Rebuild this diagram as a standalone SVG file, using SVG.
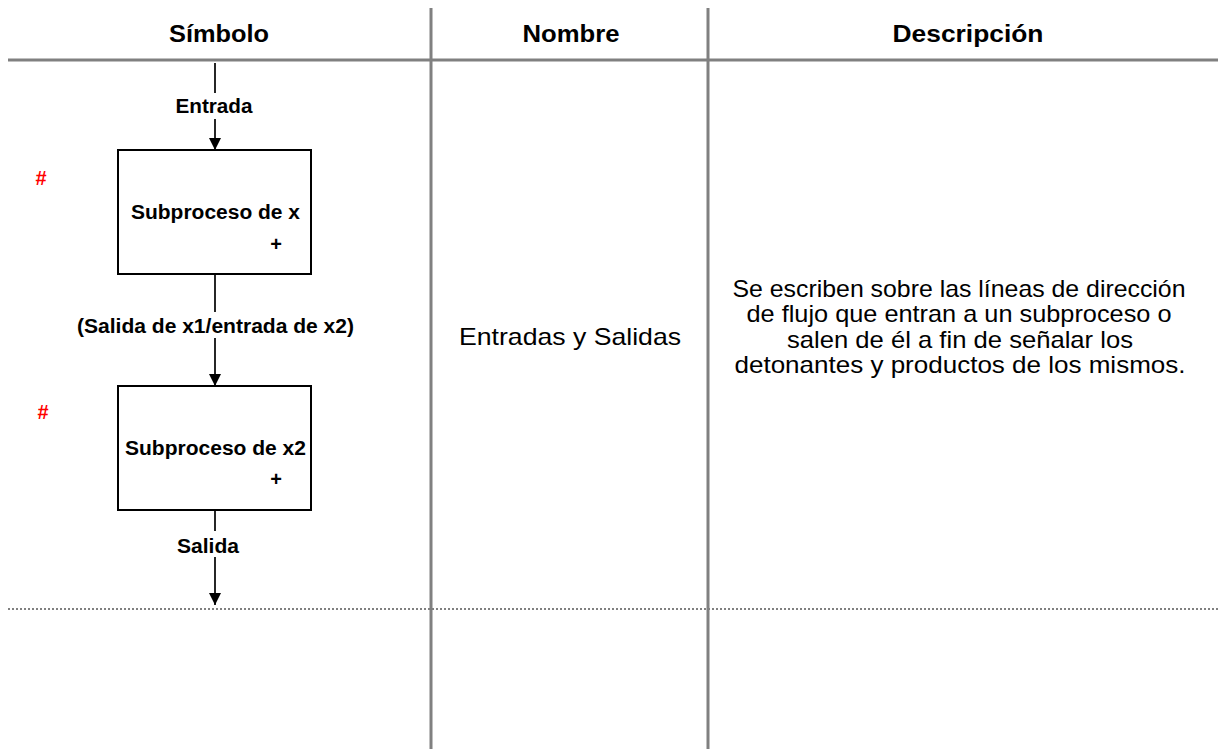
<svg xmlns="http://www.w3.org/2000/svg" width="1218" height="751" viewBox="0 0 1218 751">
<style>
.grid{stroke:#808080;stroke-width:3;fill:none}
.dot{stroke:#808080;stroke-width:2;stroke-dasharray:2 2;fill:none}
.box{fill:#fff;stroke:#000;stroke-width:2}
.ln{stroke:#000;stroke-width:1.7;fill:none}
.arr{stroke:#000;stroke-width:1.7;fill:none;marker-end:url(#ah)}
.hd{font-family:"Liberation Sans",Arial,sans-serif;font-weight:bold;font-size:24px;fill:#000;text-anchor:middle}
.lb{font-family:"Liberation Sans",Arial,sans-serif;font-weight:bold;font-size:20px;fill:#000;text-anchor:middle}
.rg{font-family:"Liberation Sans",Arial,sans-serif;font-size:24px;fill:#000;text-anchor:middle}
.hash{font-family:"Liberation Sans",Arial,sans-serif;font-weight:bold;font-size:20px;fill:#ff0000;text-anchor:middle}
</style>
<defs>
<marker id="ah" markerUnits="userSpaceOnUse" markerWidth="12" markerHeight="13" refX="12" refY="6" orient="auto">
<path d="M0,0 L12,6 L0,12 Z" fill="#000"/>
</marker>
</defs>
<g id="table">
<line class="grid" x1="431" y1="8" x2="431" y2="749"/>
<line class="grid" x1="708" y1="8" x2="708" y2="749"/>
<line class="grid" x1="8" y1="60" x2="1218" y2="60"/>
<line class="dot" x1="8" y1="609" x2="1218" y2="609"/>
<text class="hd" x="219" y="42" textLength="100" lengthAdjust="spacingAndGlyphs">Símbolo</text>
<text class="hd" x="571" y="42" textLength="97" lengthAdjust="spacingAndGlyphs">Nombre</text>
<text class="hd" x="968" y="42" textLength="151" lengthAdjust="spacingAndGlyphs">Descripción</text>
</g>
<g id="connectors">
<line class="ln" x1="215" y1="63" x2="215" y2="93"/>
<line class="arr" x1="215" y1="119" x2="215" y2="150"/>
<line class="ln" x1="215" y1="274" x2="215" y2="312"/>
<line class="arr" x1="215" y1="338" x2="215" y2="386"/>
<line class="ln" x1="215" y1="510" x2="215" y2="531"/>
<line class="arr" x1="215" y1="557" x2="215" y2="605"/>
<text class="lb" x="214" y="113" textLength="77" lengthAdjust="spacingAndGlyphs">Entrada</text>
<text class="lb" x="215.5" y="333" textLength="277" lengthAdjust="spacingAndGlyphs">(Salida de x1/entrada de x2)</text>
<text class="lb" x="208" y="553" textLength="62" lengthAdjust="spacingAndGlyphs">Salida</text>
</g>
<g id="sub1">
<rect class="box" x="118" y="150" width="193" height="124"/>
<text class="lb" x="215.5" y="219" textLength="169" lengthAdjust="spacingAndGlyphs">Subproceso de x</text>
<text class="lb" x="276" y="251">+</text>
<text class="hash" x="41" y="185">#</text>
</g>
<g id="sub2">
<rect class="box" x="118" y="386" width="193" height="124"/>
<text class="lb" x="215.5" y="455" textLength="181" lengthAdjust="spacingAndGlyphs">Subproceso de x2</text>
<text class="lb" x="276" y="486">+</text>
<text class="hash" x="43" y="419">#</text>
</g>
<g id="nombre">
<text class="rg" x="570" y="345" textLength="222" lengthAdjust="spacingAndGlyphs">Entradas y Salidas</text>
</g>
<g id="descripcion">
<text class="rg" x="959" y="297" textLength="453" lengthAdjust="spacingAndGlyphs">Se escriben sobre las líneas de dirección</text>
<text class="rg" x="959" y="322" textLength="425" lengthAdjust="spacingAndGlyphs">de flujo que entran a un subproceso o</text>
<text class="rg" x="960" y="348" textLength="346" lengthAdjust="spacingAndGlyphs">salen de él a fin de señalar los</text>
<text class="rg" x="960" y="373" textLength="451" lengthAdjust="spacingAndGlyphs">detonantes y productos de los mismos.</text>
</g>
</svg>
